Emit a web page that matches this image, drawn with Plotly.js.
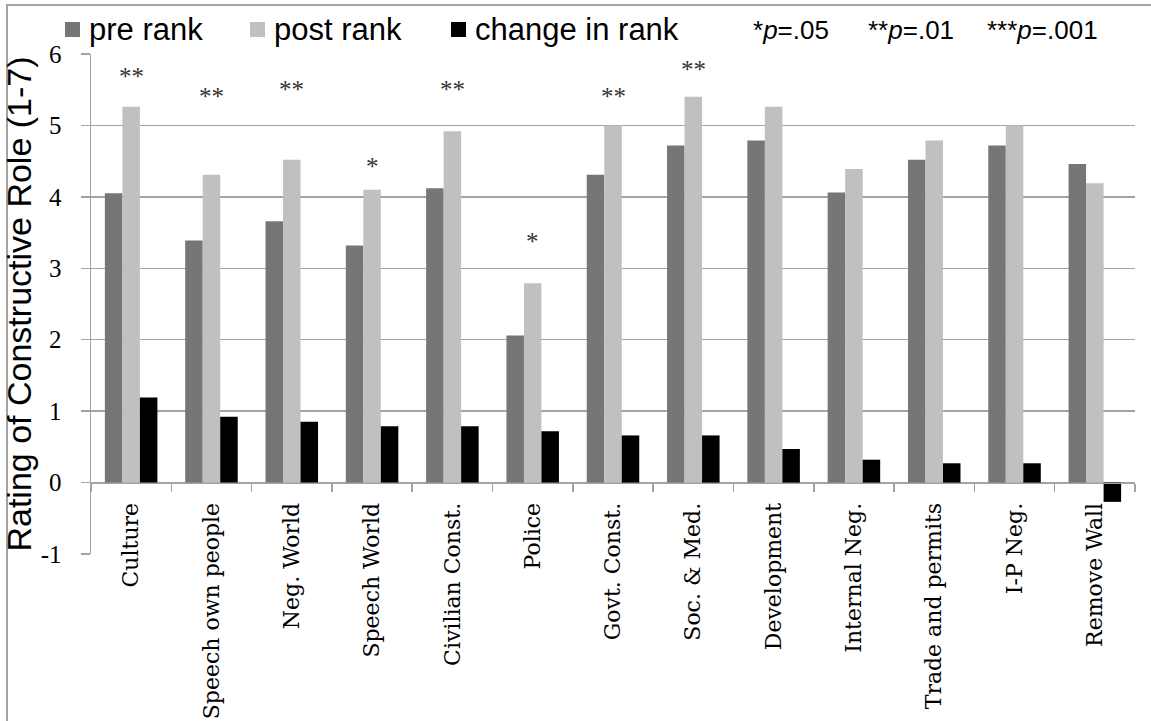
<!DOCTYPE html>
<html>
<head>
<meta charset="utf-8">
<script src="https://cdn.plot.ly/plotly-3.0.1.min.js"></script>
<style>html,body{margin:0;padding:0;background:#fff;}#chart{width:1151px;height:721px;}</style>
</head>
<body>
<div id="chart"></div>
<script>
// ---- data ----
var categories = ['Culture','Speech own people','Neg. World','Speech World','Civilian Const.','Police','Govt. Const.','Soc. & Med.','Development','Internal Neg.','Trade and permits','I-P Neg.','Remove Wall'];
var preRank    = [4.05, 3.39, 3.66, 3.32, 4.12, 2.06, 4.31, 4.72, 4.79, 4.06, 4.52, 4.72, 4.46];
var postRank   = [5.26, 4.31, 4.52, 4.10, 4.92, 2.79, 5.00, 5.40, 5.26, 4.39, 4.79, 5.00, 4.19];
var changeRank = [1.19, 0.92, 0.85, 0.79, 0.79, 0.72, 0.66, 0.66, 0.47, 0.32, 0.27, 0.27, -0.27];
var sigMarks   = ['**','**','**','*','**','*','**','**','','','','',''];
var sigHeights = [5.69, 5.40, 5.50, 4.43, 5.50, 3.38, 5.40, 5.78, null, null, null, null, null];
var seriesNames = ['pre rank','post rank','change in rank'];
var pLegend = ['*<i>p</i>=.05','**<i>p</i>=.01','***<i>p</i>=.001'];
var yTickVals = [-1, 0, 1, 2, 3, 4, 5, 6];
var yTickText = ['-1', '0', '1', '2', '3', '4', '5', '6'];

// ---- layout constants ----
var W = 1151, H = 721;
var M = {l: 91, r: 16, t: 54, b: 167, pad: 0};
var PW = W - M.l - M.r, PH = H - M.t - M.b;
function px2x(p){ return (p - M.l) / PW; }
function py2y(p){ return (H - M.b - p) / PH; }

var grey = '#a3a3a3';
var serif = 'Liberation Serif, Times New Roman, serif';
var serifWide = 'DejaVu Serif, serif';
var sans = 'Liberation Sans, Arial, sans-serif';

var colors = ['#767676', '#c0c0c0', '#000000'];
var series = [preRank, postRank, changeRank];
var traces = series.map(function(vals, i){
  return {
    type: 'bar', x: categories, y: vals, name: seriesNames[i],
    marker: {color: colors[i], line: {width: 0}},
    showlegend: false, hoverinfo: 'x+y'
  };
});

var annotations = [];
var shapes = [];
categories.forEach(function(c, i){
  if (sigMarks[i]) {
    annotations.push({
      x: c, y: sigHeights[i], xref: 'x', yref: 'y', text: sigMarks[i],
      showarrow: false, xanchor: 'center', yanchor: 'middle',
      font: {family: serif, size: 25, color: '#333333'}
    });
  }
});

// legend (squares + labels) at the top
var legSquareX = [65, 250, 451];
seriesNames.forEach(function(n, i){
  var x0 = legSquareX[i];
  shapes.push({
    type: 'rect', xref: 'paper', yref: 'paper',
    x0: px2x(x0), x1: px2x(x0 + 15), y0: py2y(37), y1: py2y(22),
    fillcolor: colors[i], line: {width: 0}
  });
  annotations.push({
    x: px2x(x0 + 22), y: py2y(30), xref: 'paper', yref: 'paper', text: n,
    showarrow: false, xanchor: 'left', yanchor: 'middle',
    font: {family: sans, size: 31, color: '#000'}
  });
});

var pX = [751, 866, 985];
pLegend.forEach(function(t, i){
  annotations.push({
    x: px2x(pX[i]), y: py2y(30), xref: 'paper', yref: 'paper', text: t,
    showarrow: false, xanchor: 'left', yanchor: 'middle',
    font: {family: sans, size: 26, color: '#000'}
  });
});

shapes.push({
  type: 'rect', xref: 'paper', yref: 'paper',
  x0: px2x(7), x1: px2x(1153), y0: py2y(725), y1: py2y(5),
  line: {color: grey, width: 2}, fillcolor: 'rgba(0,0,0,0)', layer: 'below'
});

var layout = {
  width: W, height: H, margin: M,
  paper_bgcolor: '#fff', plot_bgcolor: '#fff',
  barmode: 'group', bargap: 0.346, bargroupgap: 0,
  showlegend: false,
  xaxis: {
    type: 'category', anchor: 'free', position: 1/7,
    range: [-0.5, 12.5],
    tickson: 'boundaries', ticks: 'outside', ticklen: 8, tickwidth: 1.5, tickcolor: grey,
    showline: true, linecolor: grey, linewidth: 1.5,
    showgrid: false, zeroline: false,
    tickangle: -90, ticklabelstandoff: 10,
    tickfont: {family: serifWide, size: 22, color: '#000'}
  },
  yaxis: {
    range: [-1, 6], tickmode: 'array', tickvals: yTickVals, ticktext: yTickText,
    ticks: 'outside', ticklen: 9, tickwidth: 1.5, tickcolor: grey,
    showgrid: true, gridcolor: grey, gridwidth: 1.5,
    showline: true, linecolor: grey, linewidth: 1.5, zeroline: false,
    ticklabelstandoff: 14,
    tickfont: {family: serif, size: 25, color: '#000'},
    title: {text: 'Rating of Constructive Role (1-7)', standoff: 0,
            font: {family: sans, size: 34, color: '#000'}}
  },
  shapes: shapes,
  annotations: annotations
};

Plotly.newPlot('chart', traces, layout, {displayModeBar: false, staticPlot: true});
</script>
</body>
</html>
